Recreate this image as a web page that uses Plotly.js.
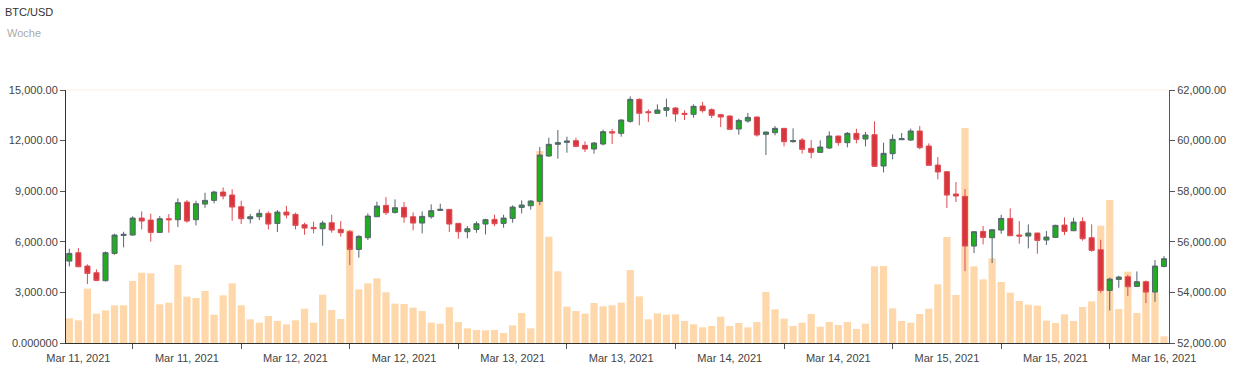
<!DOCTYPE html>
<html>
<head>
<meta charset="utf-8">
<script src="https://cdn.plot.ly/plotly-3.0.1.min.js"></script>
<style>
html,body{margin:0;padding:0;background:#fff;}
#chart{width:1235px;height:374px;}
</style>
</head>
<body>
<div id="chart"></div>
<script>
// Hourly candles, first candle Mar 11 2021 05:00
const startTime = '2021-03-11T05:00:00';
const open = [55238,55568,55041,54777,54461,55542,56253,56267,56939,56860,56372,56912,56873,57571,56873,57492,57637,57967,57848,57387,56912,56991,57123,56728,57176,57084,56675,56570,56517,56754,56491,56398,55700,56161,56991,57440,57163,57360,56991,56741,56991,57242,57281,56728,56398,56491,56701,56886,56728,56925,57360,57426,57598,59390,59852,59931,59997,59812,59667,59865,60352,60287,60761,61631,61143,61077,61196,61288,61077,61038,61367,61222,61025,60972,60458,60774,60932,60247,60313,60484,59957,60023,59693,59535,59707,60181,59918,60287,60062,60234,58995,59483,60036,60023,60379,59786,59034,58771,57888,57796,55832,56411,56161,56464,56925,56267,56227,56346,56069,56174,56662,56438,56794,56161,55687,54079,54514,54619,54237,54422,54013,55027];
const high = [55726,55753,55107,54909,55621,56319,56398,57005,57202,57110,57018,57097,57716,57650,57624,57940,58019,58151,58072,57624,57097,57281,57202,57255,57413,57150,56754,56794,56833,57071,56820,56464,56267,57123,57585,57769,57677,57571,57163,57202,57479,57505,57295,56741,56623,56807,56912,57071,57071,57440,57637,57650,59746,60115,60418,60155,60115,59970,59944,60431,60458,60840,61750,61670,61235,61433,61657,61328,61196,61433,61525,61275,61051,60998,60866,61090,60945,60352,60576,60497,60484,60102,60023,60010,60365,60194,60339,60471,60339,60761,59918,60247,60300,60471,60576,59891,59351,58797,58362,58086,56425,56623,56491,57071,57321,56820,56688,56359,56425,56675,56965,56952,56965,56688,56082,54580,54659,54698,54830,54474,55278,55436];
const low = [55028,55000,54329,54448,54435,55489,55779,56240,56491,56003,56346,56359,56583,56754,56649,57347,57519,57677,56833,56701,56728,56860,56491,56385,56925,56491,56280,56333,55845,56359,56201,55080,55370,56069,56978,57057,57110,56754,56451,56333,56912,57216,56385,56122,56135,56359,56293,56623,56557,56754,57123,57268,57453,59364,59285,59522,59733,59548,59483,59812,59865,60155,60708,60603,60735,61051,60945,60748,60814,60906,61104,60893,60537,60431,60234,60708,60155,59430,60207,59772,59918,59483,59298,59522,59667,59799,59733,59891,59772,58968,58744,59258,60023,59983,59654,59021,58468,57334,57571,54842,55555,55898,55159,56319,56227,55924,55740,55529,55871,56161,56267,56425,56043,55608,53986,53288,54184,53854,54210,53580,53631,54988];
const close = [55542,55014,54751,54474,55568,56267,56293,56939,56820,56372,56912,56873,57545,56820,57505,57637,57967,57809,57374,56912,56991,57123,56701,57176,57057,56649,56543,56517,56741,56464,56359,55700,56214,57018,57413,57150,57347,56978,56741,57005,57229,57281,56701,56398,56517,56715,56873,56715,56939,57374,57453,57611,59430,59852,59918,59983,59772,59667,59904,60352,60300,60814,61631,61077,61104,61209,61301,61051,61038,61354,61183,60998,60932,60445,60800,60919,60221,60339,60484,59957,59997,59654,59535,59746,60181,59918,60287,60049,60221,58982,59496,60049,60076,60379,59720,59021,58758,57848,57809,55832,56398,56174,56478,56925,56240,56227,56346,56056,56188,56649,56411,56780,56122,55660,54079,54527,54606,54224,54422,54013,55041,55330];
const volume = [1462,1344,3221,1739,1936,2233,2233,3675,4169,4130,2292,2391,4624,2747,2668,3083,1680,2826,3537,2233,1403,1205,1601,1304,1107,1344,2035,1205,2865,1956,1423,6699,3181,3537,3833,3004,2332,2312,2095,1897,1205,1146,2114,1245,869,771,751,771,593,1047,1778,869,11382,6303,4248,2154,1897,1739,2371,2174,2233,2391,4327,2766,1403,1759,1680,1699,1304,1107,929,1008,1561,1008,1186,929,1245,3023,1996,1442,1008,1205,1719,968,1245,1067,1245,830,1146,4545,4565,2055,1304,1205,1719,2035,3478,6284,2845,12745,4545,3774,5019,3616,2984,2490,2272,2213,1324,1186,1699,1304,2134,2470,6956,8477,2015,4229,1778,3650,3000,395];

const volTickVals = [0,3000,6000,9000,12000,15000];
const volTickText = ['0.000000','3,000.00','6,000.00','9,000.00','12,000.00','15,000.00'];
const priceTickVals = [52000,54000,56000,58000,60000,62000];
const priceTickText = ['52,000.00','54,000.00','56,000.00','58,000.00','60,000.00','62,000.00'];

const t0 = new Date(startTime + 'Z').getTime();
const times = open.map((_, i) => {
  const d = new Date(t0 + i * 3600000);
  return d.toISOString().slice(0, 19).replace('T', ' ');
});

const volTrace = {
  type: 'bar', x: times, y: volume, yaxis: 'y',
  marker: {color: '#fed8aa', line: {width: 0}},
  hoverinfo: 'skip', showlegend: false
};
const candleTrace = {
  type: 'candlestick', x: times, open: open, high: high, low: low, close: close,
  yaxis: 'y2', showlegend: false,
  increasing: {fillcolor: '#20ad20', line: {color: '#55646d', width: 1}},
  decreasing: {fillcolor: '#d8353d', line: {color: '#df4b52', width: 1}},
  whiskerwidth: 0
};

const font = 'Liberation Sans, Arial, sans-serif';
const layout = {
  width: 1235, height: 374,
  margin: {l: 66, r: 66, t: 90, b: 31, pad: 0},
  paper_bgcolor: '#ffffff', plot_bgcolor: '#ffffff',
  font: {family: font, size: 11, color: '#444'},
  showlegend: false,
  bargap: 0.2,
  boxgap: 0.3, boxgroupgap: 0.2,
  xaxis: {
    type: 'date',
    range: ['2021-03-11 04:38', '2021-03-16 06:33'],
    rangeslider: {visible: false},
    dtick: 43200000, tick0: '2021-03-11 00:00',
    tickformat: '%b %d, %Y', ticklabelmode: 'period',
    ticks: 'outside', ticklen: 5, tickcolor: '#555', tickwidth: 1,
    showline: true, linecolor: '#333', linewidth: 1,
    showgrid: false, zeroline: false,
    tickfont: {family: font, size: 11, color: '#444'}
  },
  yaxis: {
    range: [0, 15000], tickvals: volTickVals, ticktext: volTickText,
    ticks: 'outside', ticklen: 5, tickcolor: '#555',
    showline: true, linecolor: '#333', linewidth: 1,
    showgrid: false, zeroline: false,
    tickfont: {family: font, size: 11, color: '#444'}
  },
  yaxis2: {
    overlaying: 'y', side: 'right',
    range: [52000, 62000], tickvals: priceTickVals, ticktext: priceTickText,
    ticks: 'outside', ticklen: 5, tickcolor: '#555',
    showline: true, linecolor: '#555', linewidth: 1,
    showgrid: false, zeroline: false,
    tickfont: {family: font, size: 11, color: '#444'}
  },
  shapes: [{
    type: 'line', xref: 'paper', yref: 'paper', x0: 0, x1: 1, y0: 1, y1: 1,
    line: {color: '#fcefe4', width: 1}
  }],
  title: {
    text: 'BTC/USD', xref: 'container', yref: 'container',
    x: 5/1235, xanchor: 'left', y: 1 - 12/374, yanchor: 'middle',
    font: {family: font, size: 11, color: '#333'}
  },
  annotations: [{
    text: 'Woche', xref: 'paper', yref: 'paper',
    x: (5 - 66) / 1103, xanchor: 'left',
    y: 1 + (90 - 33) / 253, yanchor: 'middle',
    showarrow: false, font: {family: font, size: 11, color: '#aaa'}
  }]
};

Plotly.newPlot('chart', [volTrace, candleTrace], layout, {displayModeBar: false, staticPlot: true});
</script>
</body>
</html>
